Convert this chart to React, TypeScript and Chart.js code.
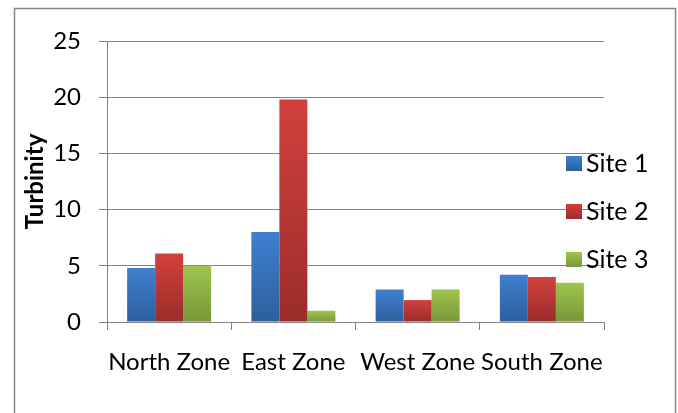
import React, { useEffect, useRef } from "react";
import { Chart, registerables } from "chart.js";

Chart.register(...registerables);

const categories = ["North Zone", "East Zone", "West Zone", "South Zone"];
const seriesNames = ["Site 1", "Site 2", "Site 3"];
const site1 = [4.8, 8.0, 2.9, 4.2];
const site2 = [6.1, 19.8, 1.95, 4.0];
const site3 = [5.0, 1.0, 2.9, 3.5];
const yTicks = [0, 5, 10, 15, 20, 25];

const topColors = ["#3f80d0", "#d2403d", "#9dc64b"];
const bottomColors = ["#2d5f9c", "#9a2d2a", "#78963a"];
const FONT = "Lato, 'DejaVu Sans', sans-serif";

export default function App() {
  const ref = useRef<HTMLCanvasElement | null>(null);
  useEffect(() => {
    const canvas = ref.current!;
    const seriesData = [site1, site2, site3];

    const gradientFor = (i: number) => (ctx: any) => {
      const chart = ctx.chart;
      const y = chart.scales.y;
      if (!y || ctx.type !== "data") return topColors[i];
      const v = ctx.raw as number;
      const top = y.getPixelForValue(v);
      const base = y.getPixelForValue(0);
      if (!isFinite(top) || !isFinite(base) || top === base) return topColors[i];
      const g = chart.ctx.createLinearGradient(0, top, 0, base);
      g.addColorStop(0, topColors[i]);
      g.addColorStop(1, bottomColors[i]);
      return g;
    };

    const bgPlugin = {
      id: "bg",
      beforeDraw(chart: any) {
        const c = chart.ctx;
        c.save();
        c.fillStyle = "#ffffff";
        c.fillRect(0, 0, chart.width, chart.height);
        c.strokeStyle = "#868686";
        c.lineWidth = 1.5;
        c.strokeRect(14.5, 8.5, 661, 430);
        c.restore();
      },
    };

    const legendPlugin = {
      id: "customLegend",
      afterDraw(chart: any) {
        const c = chart.ctx;
        const area = chart.chartArea;
        c.save();
        c.font = `25px ${FONT}`;
        c.textBaseline = "middle";
        c.textAlign = "left";
        chart.data.datasets.forEach((ds: any, i: number) => {
          const cy = area.top + 122 + i * 48;
          const x = area.right - 38;
          const g = c.createLinearGradient(0, cy - 7, 0, cy + 8);
          g.addColorStop(0, topColors[i]);
          g.addColorStop(1, bottomColors[i]);
          c.fillStyle = g;
          c.fillRect(x, cy - 7, 16, 15);
          c.fillStyle = "#000000";
          c.fillText(ds.label, x + 20, cy + 1);
        });
        c.restore();
      },
    };

    const chart = new Chart(canvas, {
      type: "bar",
      data: {
        labels: categories,
        datasets: seriesNames.map((name, i) => ({
          label: name,
          data: seriesData[i],
          backgroundColor: gradientFor(i),
          borderWidth: 0,
          categoryPercentage: 0.676,
          barPercentage: 1,
        })),
      },
      options: {
        animation: false,
        responsive: false,
        maintainAspectRatio: false,
        layout: { padding: { left: 0, top: 41, right: 74, bottom: 0 } },
        plugins: {
          legend: { display: false },
          tooltip: { enabled: false },
          title: { display: false },
        },
        scales: {
          x: {
            grid: {
              display: true,
              drawOnChartArea: false,
              drawTicks: true,
              tickLength: 8,
              color: "#868686",
              offset: true,
            },
            border: { display: true, color: "#868686", width: 1 },
            ticks: {
              color: "#000000",
              font: { family: FONT, size: 24 },
              padding: 18,
              maxRotation: 0,
              autoSkip: false,
            },
            afterFit(scale: any) {
              scale.height = 413 - 322;
            },
          },
          y: {
            min: 0,
            max: 25,
            afterBuildTicks(scale: any) {
              scale.ticks = yTicks.map((v) => ({ value: v }));
            },
            grid: {
              color: "#868686",
              tickLength: 8,
              drawTicks: true,
            },
            border: { display: true, color: "#868686", width: 1 },
            ticks: {
              color: "#000000",
              font: { family: FONT, size: 24 },
              padding: 18,
            },
            title: {
              display: true,
              text: "Turbinity",
              color: "#000000",
              font: { family: FONT, size: 24, weight: "bold" },
              padding: { top: 21, bottom: 0 },
            },
            afterFit(scale: any) {
              scale.width = 107;
            },
          },
        },
      },
      plugins: [bgPlugin, legendPlugin],
    });
    return () => chart.destroy();
  }, []);

  return (
    <div style={{ position: "fixed", left: 0, top: 0, width: 678, height: 413, background: "#fff" }}>
      <canvas ref={ref} width={678} height={413} style={{ display: "block", width: 678, height: 413 }} />
    </div>
  );
}
